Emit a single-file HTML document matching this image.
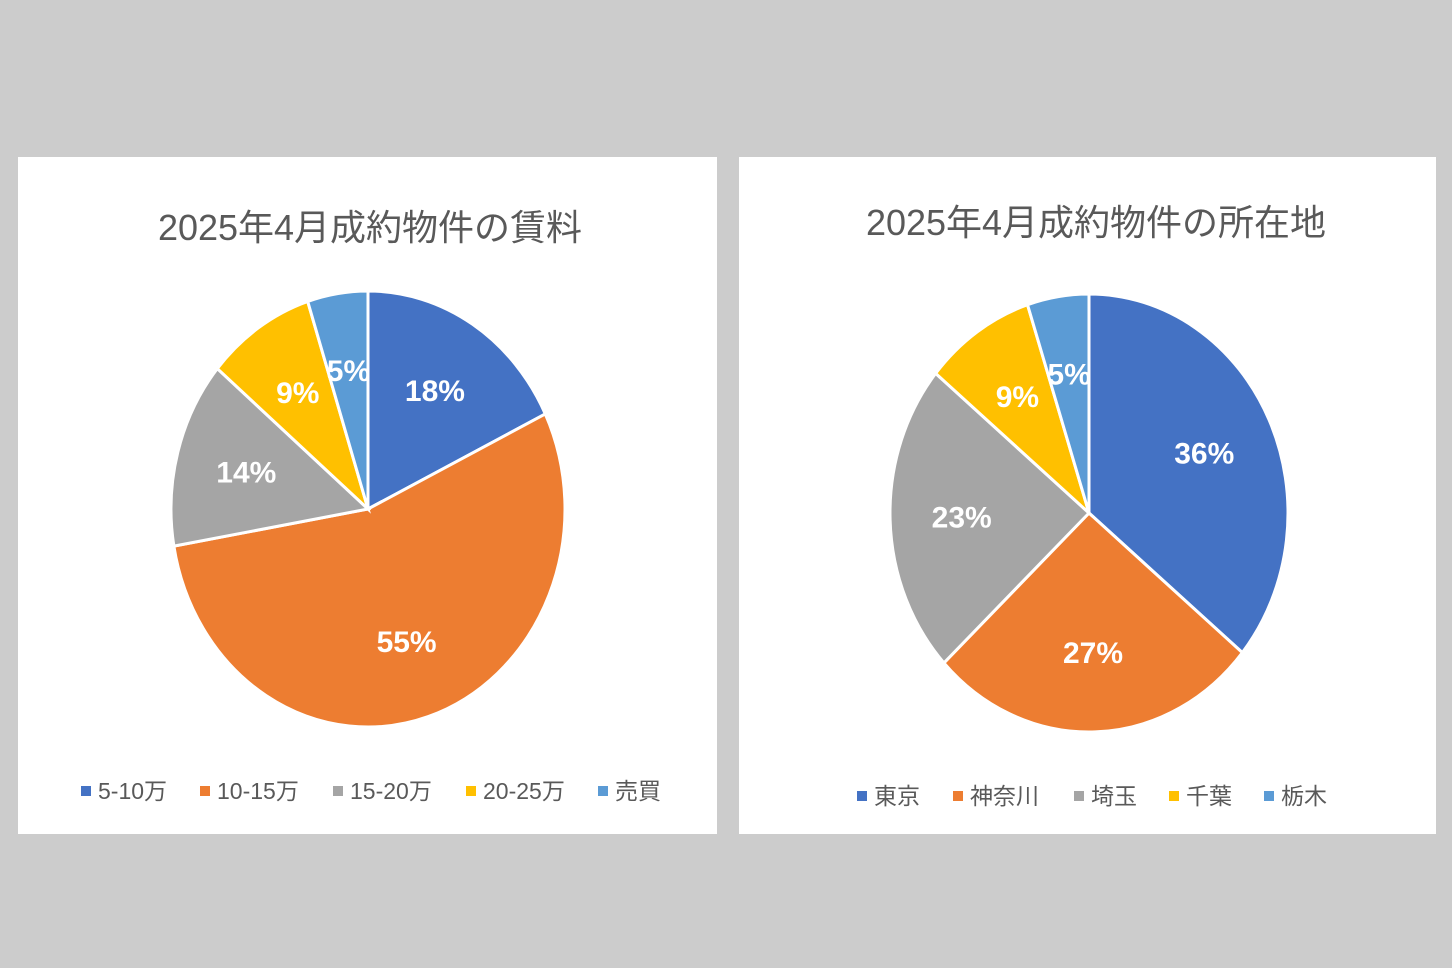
<!DOCTYPE html>
<html><head><meta charset="utf-8">
<style>
html,body{margin:0;padding:0;background:#cccccc;}
svg{display:block;font-family:"Liberation Sans","Noto Sans CJK JP",sans-serif;}
</style></head>
<body>
<svg id="s" width="1452" height="968" viewBox="0 0 1452 968">
<rect x="18" y="157" width="699" height="677" fill="#fff"/>
<rect x="739" y="157" width="697" height="677" fill="#fff"/>
<text x="370" y="240" text-anchor="middle" font-size="36" fill="#595959">2025年4月成約物件の賃料</text>
<text x="1096" y="235" text-anchor="middle" font-size="36" fill="#595959">2025年4月成約物件の所在地</text>
<g id="g"></g>
</svg>
<script>
const colors=["#4472c4","#ed7d31","#a5a5a5","#ffc000","#5b9bd5"];
const leftCategories=["5-10万","10-15万","15-20万","20-25万","売買"];
const leftValues=[18,55,14,9,5];
const rightCategories=["東京","神奈川","埼玉","千葉","栃木"];
const rightValues=[36,27,23,9,5];
const NS="http://www.w3.org/2000/svg";
const g=document.getElementById('g');
function mk(t,a){const e=document.createElementNS(NS,t);for(const k in a)e.setAttribute(k,a[k]);g.appendChild(e);return e;}
function pie(name,cats,vals,cx,cy,rx,ry,legendY,legendXs){
  const tot=vals.reduce((a,b)=>a+b,0);let a0=0;
  vals.forEach((v,i)=>{
    const a1=a0+v/tot*2*Math.PI;
    const p=(a)=>[cx+rx*Math.sin(a),cy-ry*Math.cos(a)];
    const [x0,y0]=p(a0),[x1,y1]=p(a1);
    const large=(a1-a0)>Math.PI?1:0;
    const e=mk('path',{d:`M${cx},${cy}L${x0},${y0}A${rx},${ry} 0 ${large} 1 ${x1},${y1}Z`,fill:colors[i],stroke:'#fff','stroke-width':3});
    
    
    const am=(a0+a1)/2;
    const t=mk('text',{x:cx+rx*0.64*Math.sin(am),y:cy-ry*0.64*Math.cos(am)+10,'text-anchor':'middle','font-size':30,'font-weight':'bold',fill:'#fff'});
    t.textContent=v+'%';
    
    
    const r=mk('rect',{x:legendXs[i],y:legendY-13,width:10,height:10,fill:colors[i]});
    
    
    const lt=mk('text',{x:legendXs[i]+17,y:legendY,'font-size':23,fill:'#595959'});
    lt.textContent=cats[i];
    
    
    a0=a1;
  });
}
pie('left-pie',leftCategories,leftValues,368,509,197,218,799,[81,200,333,466,598]);
pie('right-pie',rightCategories,rightValues,1089,513,199,219,804,[857,953,1074,1169,1264]);
</script>
</body></html>
